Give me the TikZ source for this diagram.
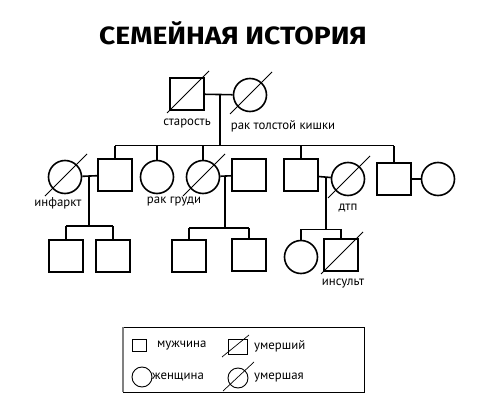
\documentclass[tikz,border=0pt]{standalone}
\usepackage{fontspec}
\setmainfont{PT Sans}
\newfontfamily\titlefont{Fira Sans}
\usetikzlibrary{positioning,calc}

\newcommand{\deadmark}[1]{\draw[slash] ([shift={(-20,19)}]#1.center) -- ([shift={(22,-23)}]#1.center);}

\begin{document}
\begin{tikzpicture}[
  x=1pt, y=-1pt,
  male/.style={draw, line width=1.6pt, minimum width=34pt, minimum height=32pt, inner sep=0pt},
  female/.style={draw, circle, line width=1.6pt, minimum size=33pt, inner sep=0pt},
  link/.style={line width=1.6pt},
  slash/.style={line width=0.8pt},
  lbl/.style={font=\fontsize{12.8}{14}\selectfont, inner sep=0pt},
  keymale/.style={draw, line width=0.9pt, minimum width=14pt, minimum height=12pt, inner sep=0pt},
  keyfemale/.style={draw, circle, line width=0.9pt, minimum size=20pt, inner sep=0pt},
  keyslash/.style={line width=0.7pt}
]
\useasboundingbox (0,0) rectangle (477,412);

% title
\node[font=\titlefont\bfseries\fontsize{25}{28}\selectfont, inner sep=0pt, xscale=1.13] (title) at (233,33) {СЕМЕЙНАЯ ИСТОРИЯ};

% first generation
\node[male] (gf) at (187,94) {};
\node[female] (gm) at (250,95) {};
\deadmark{gf}
\deadmark{gm}
\node[lbl, below=8pt of gf] (gflbl) {старость};
\node[lbl, below=8pt of gm, xshift=33pt] (gmlbl) {рак толстой кишки};

% second generation
\node[female] (w1) at (65,177) {};
\node[male] (c1) at (115,175) {};
\node[female] (c2) at (157,177) {};
\node[female] (c3) at (203,177) {};
\node[male] (h3) at (249,175) {};
\node[male] (c4) at (301,175) {};
\node[female] (w4) at (348,179) {};
\node[male] (c5) at (394,179) {};
\node[female] (w5) at (438,179) {};
\deadmark{w1}
\deadmark{c3}
\deadmark{w4}
\node[lbl] (w1lbl) at (58,203) {инфаркт};
\node[lbl] (c3lbl) at (174,202) {рак груди};
\node[lbl] (w4lbl) at (348,208) {дтп};

% third generation
\node[male] (g1) at (66,256) {};
\node[male] (g2) at (113,256) {};
\node[male] (g3) at (189,256) {};
\node[male] (g4) at (249,255) {};
\node[female] (g5) at (301,257) {};
\node[male] (g6) at (341,255) {};
\deadmark{g6}
\node[lbl] (g6lbl) at (343,284) {инсульт};

% marriages and descent
\draw[link] (gf) -- (gm);
\coordinate (sib1) at ($(gf.east)!0.55!(gm.west)+(0,51)$);
\draw[link] ($(gf.east)!0.55!(gm.west)$) -- (sib1);
\draw[link] (c1.north |- sib1) -- (c5.north |- sib1);
\foreach \c in {c1,c2,c3,c4,c5}
  \draw[link] (\c.north) -- (\c.north |- sib1);

\draw[link] (w1) -- (c1);
\draw[link] (c3) -- (h3);
\draw[link] (c4) -- (w4);
\draw[link] (c5) -- (w5);

\coordinate (sib2) at ($(w1.east)!0.45!(c1.west)+(0,50)$);
\draw[link] ($(w1.east)!0.45!(c1.west)$) -- (sib2);
\draw[link] (g1.north |- sib2) -- (g2.north |- sib2);
\foreach \c in {g1,g2}
  \draw[link] (\c.north) -- (\c.north |- sib2);

\coordinate (sib3) at ($(c3.east)!0.45!(h3.west)+(0,52)$);
\draw[link] ($(c3.east)!0.45!(h3.west)$) -- (sib3);
\draw[link] (g3.north |- sib3) -- (g4.north |- sib3);
\foreach \c in {g3,g4}
  \draw[link] (\c.north) -- (\c.north |- sib3);

\coordinate (sib4) at ($(c4.east)!0.6!(w4.west)+(0,52)$);
\draw[link] ($(c4.east)!0.6!(w4.west)$) -- (sib4);
\draw[link] (g5.north |- sib4) -- (g6.north |- sib4);
\foreach \c in {g5,g6}
  \draw[link] (\c.north) -- (\c.north |- sib4);

% legend
\draw[line width=1pt] (123,327) rectangle (364,392);
\draw[line width=1.8pt, gray] (123,327) -- (123,392);
\node[keymale] (kmale) at (139.5,345) {};
\node[lbl, anchor=west] (kmalelbl) at (157,346) {мужчина};
\node[keymale, minimum width=19pt, minimum height=15pt] (kdead) at (238,347) {};
\draw[keyslash] (kdead.center) ++(-16,10) -- ++(27,-22);
\node[lbl, anchor=west] (kdeadlbl) at (254,346) {умерший};
\node[keyfemale] (kfemale) at (142,377) {};
\node[lbl, anchor=west] (kfemalelbl) at (152,377) {женщина};
\node[keyfemale] (kdeadf) at (238,378) {};
\draw[keyslash] (kdeadf.center) ++(-15,13) -- ++(31,-29);
\node[lbl, anchor=west] (kdeadflbl) at (254,378) {умершая};
\end{tikzpicture}
\end{document}
